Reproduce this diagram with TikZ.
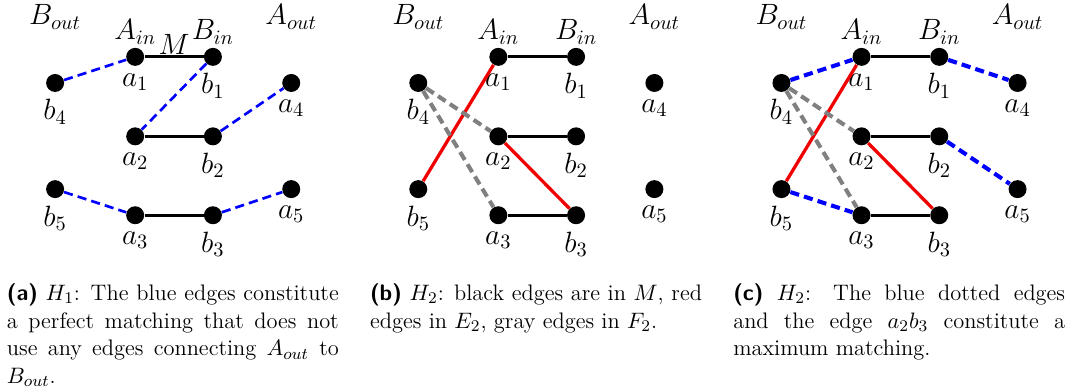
\documentclass[tikz,border=0pt]{standalone}
\usepackage{xcolor}
\usepackage{tikz}
\usetikzlibrary{positioning}
\definecolor{matchblue}{RGB}{0, 0, 255}
\definecolor{altred}   {RGB}{240, 0, 0}
\definecolor{altgray}  {RGB}{128, 128, 128}

\tikzset{
  vertex/.style={circle, fill=black, inner sep=0pt, minimum size=0.31cm},
  setname/.style={font=\Large},
  vlabel/.style={font=\Large},
  medge/.style={black, line width=1.5pt},
  blueedge/.style={matchblue, line width=1.3pt, dash pattern=on 4.5pt off 2.5pt},
  bluethick/.style={matchblue, line width=2pt, dash pattern=on 4.5pt off 2.5pt},
  rededge/.style={altred, line width=1.6pt},
  grayedge/.style={altgray, line width=2pt, dash pattern=on 4.5pt off 2.5pt},
  subcap/.style={text width=5.72cm, align=justify, inner sep=0pt, anchor=north,
                 font=\fontsize{11}{13.6}\selectfont}
}

% vertices and side names of one panel, names prefixed by #1
\newcommand{\vertexset}[1]{%
  \node[setname] (#1Bout) at (0.95,-0.29) {$B_{out}$};
  \node[setname] (#1Ain)  at (2.33,-0.55) {$A_{in}$};
  \node[setname] (#1Bin)  at (3.67,-0.55) {$B_{in}$};
  \node[setname] (#1Aout) at (5.02,-0.29) {$A_{out}$};
  \node[vertex, label={[vlabel]below:$a_1$}] (#1a1) at (2.33,-0.98) {};
  \node[vertex, label={[vlabel]below:$b_1$}] (#1b1) at (3.67,-0.98) {};
  \node[vertex, label={[vlabel]below:$b_4$}] (#1b4) at (0.95,-1.43) {};
  \node[vertex, label={[vlabel]below:$a_4$}] (#1a4) at (5.02,-1.43) {};
  \node[vertex, label={[vlabel]below:$a_2$}] (#1a2) at (2.33,-2.35) {};
  \node[vertex, label={[vlabel]below:$b_2$}] (#1b2) at (3.67,-2.35) {};
  \node[vertex, label={[vlabel]below:$b_5$}] (#1b5) at (0.95,-3.26) {};
  \node[vertex, label={[vlabel]below:$a_5$}] (#1a5) at (5.02,-3.26) {};
  \node[vertex, label={[vlabel]below:$a_3$}] (#1a3) at (2.33,-3.71) {};
  \node[vertex, label={[vlabel]below:$b_3$}] (#1b3) at (3.67,-3.71) {};
}

\begin{document}
\begin{tikzpicture}
  \useasboundingbox (0,0) rectangle (18.53,-6.69);

  % (a)
  \begin{scope}
    \vertexset{p}
    \draw[medge] (pa1) -- node[vlabel, above, inner sep=0.5pt] (pM) {$M$} (pb1);
    \draw[medge] (pa2) -- (pb2);
    \draw[medge] (pa3) -- (pb3);
    \draw[blueedge] (pb4) -- (pa1);
    \draw[blueedge] (pb1) -- (pa2);
    \draw[blueedge] (pb2) -- (pa4);
    \draw[blueedge] (pb5) -- (pa3);
    \draw[blueedge] (pb3) -- (pa5);
  \end{scope}
  \node[subcap] (capa) at (2.98,-4.88)
       {\textsf{\textbf{(a)}} $H_1$: The blue edges constitute a perfect matching that does not use any edges connecting $A_{out}$ to $B_{out}$.};

  % (b)
  \begin{scope}[xshift=6.26cm]
    \vertexset{q}
    \draw[medge] (qa1) -- (qb1);
    \draw[medge] (qa2) -- (qb2);
    \draw[medge] (qa3) -- (qb3);
    \draw[rededge] (qb5) -- (qa1);
    \draw[rededge] (qa2) -- (qb3);
    \draw[grayedge] (qb4) -- (qa2);
    \draw[grayedge] (qb4) -- (qa3);
  \end{scope}
  \node[subcap] (capb) at (9.24,-4.88)
       {\textsf{\textbf{(b)}} $H_2$: black edges are in $M$, red edges in $E_2$, gray edges in $F_2$.};

  % (c)
  \begin{scope}[xshift=12.52cm]
    \vertexset{r}
    \draw[medge] (ra1) -- (rb1);
    \draw[medge] (ra2) -- (rb2);
    \draw[medge] (ra3) -- (rb3);
    \draw[rededge] (rb5) -- (ra1);
    \draw[rededge] (ra2) -- (rb3);
    \draw[grayedge] (rb4) -- (ra2);
    \draw[grayedge] (rb4) -- (ra3);
    \draw[bluethick] (rb4) -- (ra1);
    \draw[bluethick] (rb1) -- (ra4);
    \draw[bluethick] (rb2) -- (ra5);
    \draw[bluethick] (rb5) -- (ra3);
  \end{scope}
  \node[subcap] (capc) at (15.50,-4.88)
       {\textsf{\textbf{(c)}} $H_2$: The blue dotted edges\linebreak and the edge $a_2b_3$ constitute a maximum matching.};
\end{tikzpicture}
\end{document}
